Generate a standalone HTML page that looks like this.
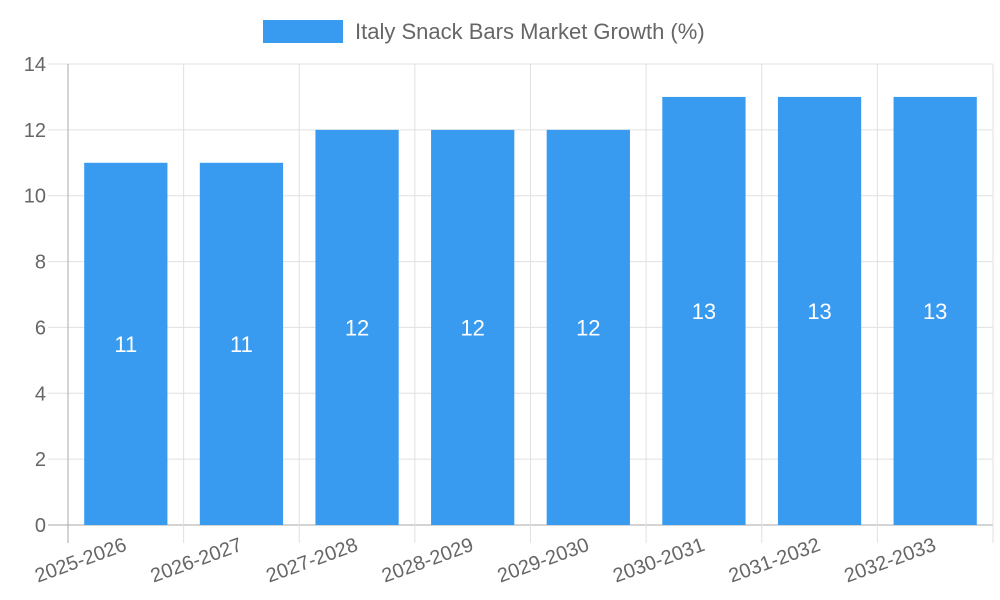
<!DOCTYPE html>
<html><head><meta charset="utf-8"><style>body{margin:0;background:#fff}svg{display:block;font-family:"Liberation Sans",sans-serif}</style></head>
<body>
<svg id="c" width="1000" height="600"></svg>
<script>
const categories=["2025-2026","2026-2027","2027-2028","2028-2029","2029-2030","2030-2031","2031-2032","2032-2033"];
const values=[11,11,12,12,12,13,13,13];
const yTicks=[0,2,4,6,8,10,12,14];
const NS="http://www.w3.org/2000/svg",svg=document.getElementById('c');
const L=68,R=993,T=64,B=525,yMax=14;
const bw=(R-L)/categories.length;
const y=v=>B-(v/yMax)*(B-T);
const x=i=>L+i*bw;
function mk(t,a,p){const e=document.createElementNS(NS,t);for(const k in a)e.setAttribute(k,a[k]);(p||svg).appendChild(e);return e;}
const grid=mk('g',{});


yTicks.forEach(v=>{mk('line',{x1:48,x2:R,y1:y(v),y2:y(v),stroke:v===0?'#aaa':'#e0e0e0','stroke-width':1},grid);
const t=mk('text',{x:46,y:y(v)+7,'text-anchor':'end','font-size':20,fill:'#666'});t.textContent=v;

});
for(let i=0;i<=categories.length;i++){mk('line',{x1:x(i),x2:x(i),y1:T,y2:B+18,stroke:i===0?'#aaa':'#e0e0e0','stroke-width':1},grid);}
categories.forEach((c,i)=>{
const bx=x(i)+bw*0.14,w=bw*0.72;
const r=mk('rect',{x:bx,y:y(values[i]),width:w,height:B-y(values[i]),fill:'#389bf0'});


const vl=mk('text',{x:x(i)+bw/2,y:(y(values[i])+B)/2+8,'text-anchor':'middle','font-size':22,fill:'#fff'});vl.textContent=values[i];


const cx=x(i)+bw/2+2,cy=550;
const tl=mk('text',{x:cx,y:cy,'text-anchor':'end','font-size':20,fill:'#666',transform:`rotate(-20 ${cx} ${cy})`});tl.textContent=c;


});
const lg=mk('g',{});


mk('rect',{x:263,y:20,width:80,height:23,fill:'#389bf0'},lg);
const lt=mk('text',{x:355,y:39,'font-size':22,fill:'#666'},lg);lt.textContent="Italy Snack Bars Market Growth (%)";
</script>
</body></html>
